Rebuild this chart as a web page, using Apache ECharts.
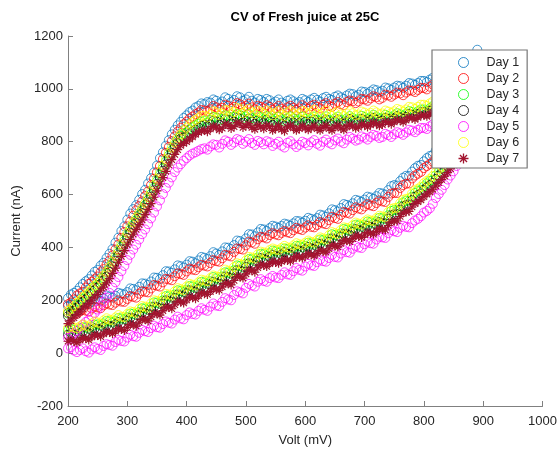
<!DOCTYPE html>
<html><head><meta charset="utf-8">
<script src="https://cdn.jsdelivr.net/npm/echarts@6.0.0/dist/echarts.min.js"></script>
<style>html,body{margin:0;padding:0;background:#fff}#c{width:560px;height:452px}</style>
</head><body><div id="c"></div>
<script>
// Voltage samples (mV)
const volts = [
  200,205,210,215,220,225,230,235,240,245,250,255,260,265,270,275,280,285,290,295,
  300,305,310,315,320,325,330,335,340,345,350,355,360,365,370,375,380,385,390,395,
  400,405,410,415,420,425,430,435,440,445,450,455,460,465,470,475,480,485,490,495,
  500,505,510,515,520,525,530,535,540,545,550,555,560,565,570,575,580,585,590,595,
  600,605,610,615,620,625,630,635,640,645,650,655,660,665,670,675,680,685,690,695,
  700,705,710,715,720,725,730,735,740,745,750,755,760,765,770,775,780,785,790,795,
  800,805,810,815,820,825,830,835,840,845,850,855,860,865,870,875,880,885,890];

// Upper (anodic) branch currents, nA
const day1Up = [
  208,222,228,236,249,262,272,280,294,308,315,331,342,360,376,394,418,437,462,480,
  505,528,545,560,580,602,618,642,662,684,710,738,760,785,806,828,845,862,875,890,
  900,912,918,930,935,945,942,950,948,960,955,945,952,968,962,950,958,972,968,955,
  960,970,955,948,962,958,950,962,957,945,952,960,948,942,955,960,953,945,950,962,
  957,950,960,966,958,952,965,970,962,958,970,975,968,962,975,982,980,972,978,990,
  988,982,990,998,995,988,993,1005,1002,996,1005,1012,1010,1004,1012,1022,1020,1015,1022,1030,
  1030,1026,1035,1042,1040,1045,1048,1054,1055,1058,1062,1070,1075,1082,1090,1100,1112,1128,1148];
const day2Up = [
  185,192,203,218,226,232,248,262,270,280,290,306,318,336,350,370,392,411,436,458,
  480,498,520,540,556,574,594,612,636,660,684,708,734,758,780,802,820,838,852,866,
  876,888,895,904,910,920,918,915,923,935,930,922,928,940,936,925,932,946,942,930,
  935,944,930,922,936,932,926,938,932,920,927,935,924,918,930,936,928,920,926,938,
  930,924,935,940,932,926,940,946,936,932,944,950,942,938,950,956,953,946,952,962,
  960,955,964,972,968,960,966,978,975,970,978,986,983,976,986,994,993,988,996,1004,
  1003,998,1008,1016,1013,1016,1020,1026,1028,1032,1036,1042,1048,1056,1064,1074,1086,1102,1118];
const day3Up = [
  150,158,170,182,192,205,214,224,236,250,258,272,285,300,318,338,358,380,402,425,
  446,466,486,502,522,540,560,580,602,626,650,675,700,725,748,768,788,806,822,830,
  835,846,855,862,868,876,879,872,882,894,891,880,886,900,896,884,894,905,901,888,
  896,905,889,882,898,892,884,897,893,880,886,895,884,877,889,896,888,880,884,895,
  887,880,888,895,883,878,888,896,882,877,888,895,883,876,888,897,890,882,886,898,
  893,886,893,902,895,888,891,902,897,892,900,908,904,898,906,916,913,906,915,922,
  922,918,927,935,932,935,940,945,947,950,954,960,967,974,982,992,1004,1020,1040];
const day4Up = [
  140,148,160,172,182,194,204,214,226,238,248,262,276,290,308,328,348,370,392,415,
  436,456,476,494,512,530,550,570,592,616,640,665,690,714,738,758,778,796,812,816,
  820,832,840,846,853,860,864,858,866,880,877,865,870,887,883,870,876,892,889,874,
  879,888,876,868,881,878,871,884,876,864,873,882,867,862,876,882,872,864,871,880,
  875,866,876,884,871,865,876,884,870,864,876,884,871,866,876,886,878,870,874,886,
  881,874,881,890,883,876,879,890,886,880,888,897,892,886,894,905,902,896,904,912,
  912,907,917,924,922,925,930,935,937,940,944,950,957,964,972,982,994,1010,1030];
const day5Up = [
  58,62,75,84,95,108,118,126,140,152,165,180,195,210,228,248,268,288,310,330,
  352,372,392,410,430,450,468,488,510,532,555,578,602,625,645,665,685,702,715,728,
  738,748,755,760,766,772,775,770,782,790,788,778,792,805,800,788,797,810,806,792,
  800,810,795,788,803,798,790,802,798,784,792,800,785,778,796,802,790,780,788,800,
  795,786,798,806,792,785,800,808,796,790,805,812,800,794,808,818,812,804,808,820,
  815,808,818,826,822,814,818,830,825,818,828,836,832,826,835,845,842,836,845,852,
  852,848,858,866,865,868,872,878,880,884,890,896,905,914,925,936,950,968,990];
const day6Up = [
  160,168,178,190,200,212,222,234,245,256,266,280,293,308,326,346,368,390,412,434,
  455,476,495,512,530,548,568,590,612,636,660,685,710,734,757,778,797,814,828,842,
  853,866,874,882,889,898,898,892,902,915,911,900,906,920,918,904,912,928,924,908,
  914,924,911,904,916,912,906,918,911,900,908,916,902,896,911,918,907,898,906,916,
  912,904,912,920,906,900,910,918,904,898,908,915,903,897,907,916,908,900,903,914,
  910,903,909,918,911,904,907,918,914,908,915,924,920,914,922,932,930,924,932,940,
  940,936,945,952,950,953,958,963,965,968,972,978,985,992,1000,1010,1022,1038,1058];
const day7Up = [
  112,122,134,146,156,168,178,188,200,212,222,236,250,266,282,302,322,344,366,388,
  410,430,450,468,486,504,524,544,566,590,614,640,664,688,712,732,752,770,786,794,
  800,810,818,828,836,840,842,838,848,858,855,845,851,866,862,850,857,872,868,854,
  860,868,854,847,862,856,849,861,857,843,851,860,847,840,855,862,852,843,849,860,
  852,845,853,860,849,843,854,862,849,843,855,862,851,845,856,864,859,851,855,866,
  863,856,864,872,868,860,865,876,873,866,875,884,880,874,882,892,890,884,892,900,
  900,896,905,912,910,913,918,923,925,928,932,938,945,952,960,970,982,998,1018];

// Lower (cathodic) branch currents, nA
const day1Low = [
  178,185,181,176,184,192,191,186,195,204,203,198,207,218,214,210,217,228,225,222,
  231,245,243,238,251,264,263,258,271,286,285,280,295,310,309,304,317,332,329,324,
  335,348,346,340,351,364,361,356,367,382,377,372,385,400,399,394,409,426,424,418,
  434,450,449,442,457,470,468,462,473,482,479,474,481,490,487,482,491,500,499,494,
  501,512,508,503,511,524,521,516,529,544,541,536,549,564,561,556,567,580,577,572,
  581,592,589,584,594,606,604,600,617,632,636,634,651,664,671,670,687,700,709,712,
  726,738,746,750,767,780,793,800,817,830,849,862,881,900,926,950,984,1020,1070];
const day2Low = [
  152,158,150,148,158,165,161,157,169,176,173,170,181,188,184,182,191,200,195,194,
  205,216,213,210,225,234,232,230,245,258,255,252,268,281,279,276,291,302,299,296,
  309,320,316,314,325,334,331,328,341,352,348,346,359,372,369,366,383,396,394,392,
  408,422,419,414,431,440,438,434,447,454,449,446,455,462,457,454,465,474,469,466,
  475,484,478,476,485,496,491,488,503,516,511,508,523,534,531,528,541,552,547,544,
  555,564,559,556,568,578,574,572,591,604,606,606,625,636,641,642,661,672,679,686,
  700,708,716,724,741,752,763,774,791,804,819,834,855,874,896,922,958,995,1040];
const day3Low = [
  85,92,88,84,90,98,97,92,100,108,109,104,112,122,120,116,122,133,131,128,
  136,150,149,144,156,170,169,164,176,192,191,186,200,216,215,210,222,238,235,230,
  240,254,252,246,256,270,267,262,272,288,283,278,290,306,305,300,314,332,330,324,
  339,356,355,348,362,376,374,368,378,388,385,380,386,396,393,388,396,406,405,400,
  406,418,414,410,416,430,427,422,434,450,447,442,454,470,467,462,472,486,483,478,
  486,498,495,490,499,512,510,506,522,538,542,540,556,570,577,576,592,606,615,618,
  631,642,652,656,672,686,699,706,722,736,755,768,786,806,832,856,889,925,975];
const day4Low = [
  70,76,70,66,76,82,80,76,87,94,92,88,99,106,103,100,109,118,114,112,
  123,134,132,128,143,154,152,148,163,176,174,170,187,200,198,194,209,222,218,214,
  227,238,235,232,243,252,250,246,259,270,266,262,277,290,288,284,301,314,313,308,
  326,340,338,332,349,360,357,352,365,372,368,364,373,382,376,372,383,392,388,384,
  393,402,397,394,403,414,410,406,421,434,430,426,441,452,450,446,459,470,466,462,
  473,482,478,474,486,496,493,490,509,522,525,526,543,556,560,562,579,592,598,604,
  618,628,635,644,659,672,682,692,709,722,738,754,773,792,815,842,876,915,960];
const day5Low = [
  18,22,10,4,12,18,7,2,14,22,16,12,27,34,31,28,42,50,46,44,
  59,70,64,62,77,88,83,80,95,104,98,96,110,120,115,112,127,138,131,128,
  144,154,148,146,160,170,164,160,176,188,180,178,194,208,203,200,220,234,230,226,
  247,262,256,252,270,280,273,270,284,292,286,284,296,306,298,296,310,322,315,312,
  328,338,332,330,344,354,348,346,360,372,364,362,377,390,382,380,395,406,400,398,
  412,422,416,414,430,440,438,436,454,466,461,458,474,482,478,476,492,502,508,518,
  532,538,548,565,587,602,618,636,657,672,688,708,727,742,758,780,802,825,848];
const day6Low = [
  95,102,97,94,101,108,104,100,112,120,116,112,124,132,127,124,135,144,138,136,
  148,158,156,152,168,178,176,172,188,200,198,194,212,224,222,218,234,246,242,238,
  252,262,259,256,268,278,275,272,284,294,290,288,302,316,312,308,326,340,337,334,
  351,364,362,358,374,384,381,378,390,396,392,390,398,406,400,398,408,416,412,410,
  418,426,421,418,428,438,434,430,446,458,454,450,466,476,474,470,484,494,490,486,
  498,506,502,500,511,520,517,514,534,546,549,550,568,580,584,586,604,616,622,630,
  643,652,659,670,684,696,706,718,734,748,762,778,798,818,839,866,901,940,985];
const day7Low = [
  45,50,44,40,50,57,55,50,61,68,67,62,73,80,78,74,83,92,89,86,
  97,108,107,102,117,128,127,122,137,150,149,144,161,174,173,168,183,196,193,190,
  201,212,210,206,217,228,225,222,233,244,241,238,251,264,263,258,275,290,288,284,
  300,314,313,306,323,334,332,328,339,346,343,340,347,356,351,348,357,366,363,360,
  367,376,372,368,377,388,385,382,395,408,405,402,415,426,425,422,433,444,441,438,
  447,456,453,450,460,470,468,466,483,496,500,500,517,530,535,536,553,566,573,580,
  592,602,610,620,633,646,657,670,683,698,713,730,747,766,790,818,850,890,935];

const dayNames = ['Day 1','Day 2','Day 3','Day 4','Day 5','Day 6','Day 7'];
const upData = [day1Up, day2Up, day3Up, day4Up, day5Up, day6Up, day7Up];
const lowData = [day1Low, day2Low, day3Low, day4Low, day5Low, day6Low, day7Low];

const colors = ['#0072BD','#FF0000','#00FF00','#000000','#FF00FF','#FFFF00','#A2142F'];
const FONT = '"Liberation Sans", Arial, Helvetica, sans-serif';
const STAR = 'path://M0 8.7L20 8.7L20 11.3L0 11.3Z M8.7 0L11.3 0L11.3 20L8.7 20Z M3.85 2.01L17.99 16.15L16.15 17.99L2.01 3.85Z M17.99 3.85L3.85 17.99L2.01 16.15L16.15 2.01Z';

const series = dayNames.map((name, k) => {
  const pts = volts.map((v, i) => [v, upData[k][i]]).concat(volts.map((v, i) => [v, lowData[k][i]]));
  const isStar = k === 6;
  return {
    type: 'scatter', name: name, data: pts,
    symbol: isStar ? STAR : 'circle',
    symbolSize: 9,
    itemStyle: isStar ? {color: colors[k], opacity: 1}
                      : {color: 'rgba(0,0,0,0)', borderColor: colors[k], borderWidth: 0.9},
    emphasis: {disabled: true},
    silent: true
  };
});

const plain = v => String(v);

const chart = echarts.init(document.getElementById('c'), null, {renderer: 'canvas'});
chart.setOption({
  animation: false,
  backgroundColor: '#ffffff',
  title: {
    text: 'CV of Fresh juice at 25C',
    left: 305, top: 11, padding: 0, textAlign: 'center',
    textStyle: {fontFamily: FONT, fontSize: 13, fontWeight: 'bold', color: '#000'}
  },
  grid: {left: 68, right: 17, top: 36, bottom: 45, containLabel: false},
  legend: {
    orient: 'vertical', left: 432, top: 50,
    itemWidth: 36, itemHeight: 10, itemGap: 3,
    padding: [6, 8, 3, 26],
    itemStyle: {borderWidth: 1},
    backgroundColor: '#ffffff', borderColor: '#777777', borderWidth: 1.2, borderRadius: 0,
    textStyle: {fontFamily: FONT, fontSize: 12.5, color: '#262626'},
    data: dayNames
  },
  xAxis: {
    type: 'value', min: 200, max: 1000, interval: 100,
    name: 'Volt (mV)', nameLocation: 'middle', nameGap: 28,
    nameTextStyle: {fontFamily: FONT, fontSize: 13, color: '#262626'},
    axisLine: {onZero: false, lineStyle: {color: '#808080', width: 1}},
    axisTick: {inside: true, length: 5, lineStyle: {color: '#808080'}},
    axisLabel: {margin: 9, fontFamily: FONT, fontSize: 13, color: '#262626', formatter: plain},
    splitLine: {show: false}
  },
  yAxis: {
    type: 'value', min: -200, max: 1200, interval: 200,
    name: 'Current (nA)', nameLocation: 'middle', nameGap: 40,
    nameTextStyle: {fontFamily: FONT, fontSize: 13, color: '#262626'},
    axisLine: {show: true, onZero: false, lineStyle: {color: '#808080', width: 1}},
    axisTick: {show: true, inside: true, length: 5, lineStyle: {color: '#808080'}},
    axisLabel: {margin: 5, fontFamily: FONT, fontSize: 13, color: '#262626', formatter: plain},
    splitLine: {show: false}
  },
  series: series
});
</script>
</body></html>
